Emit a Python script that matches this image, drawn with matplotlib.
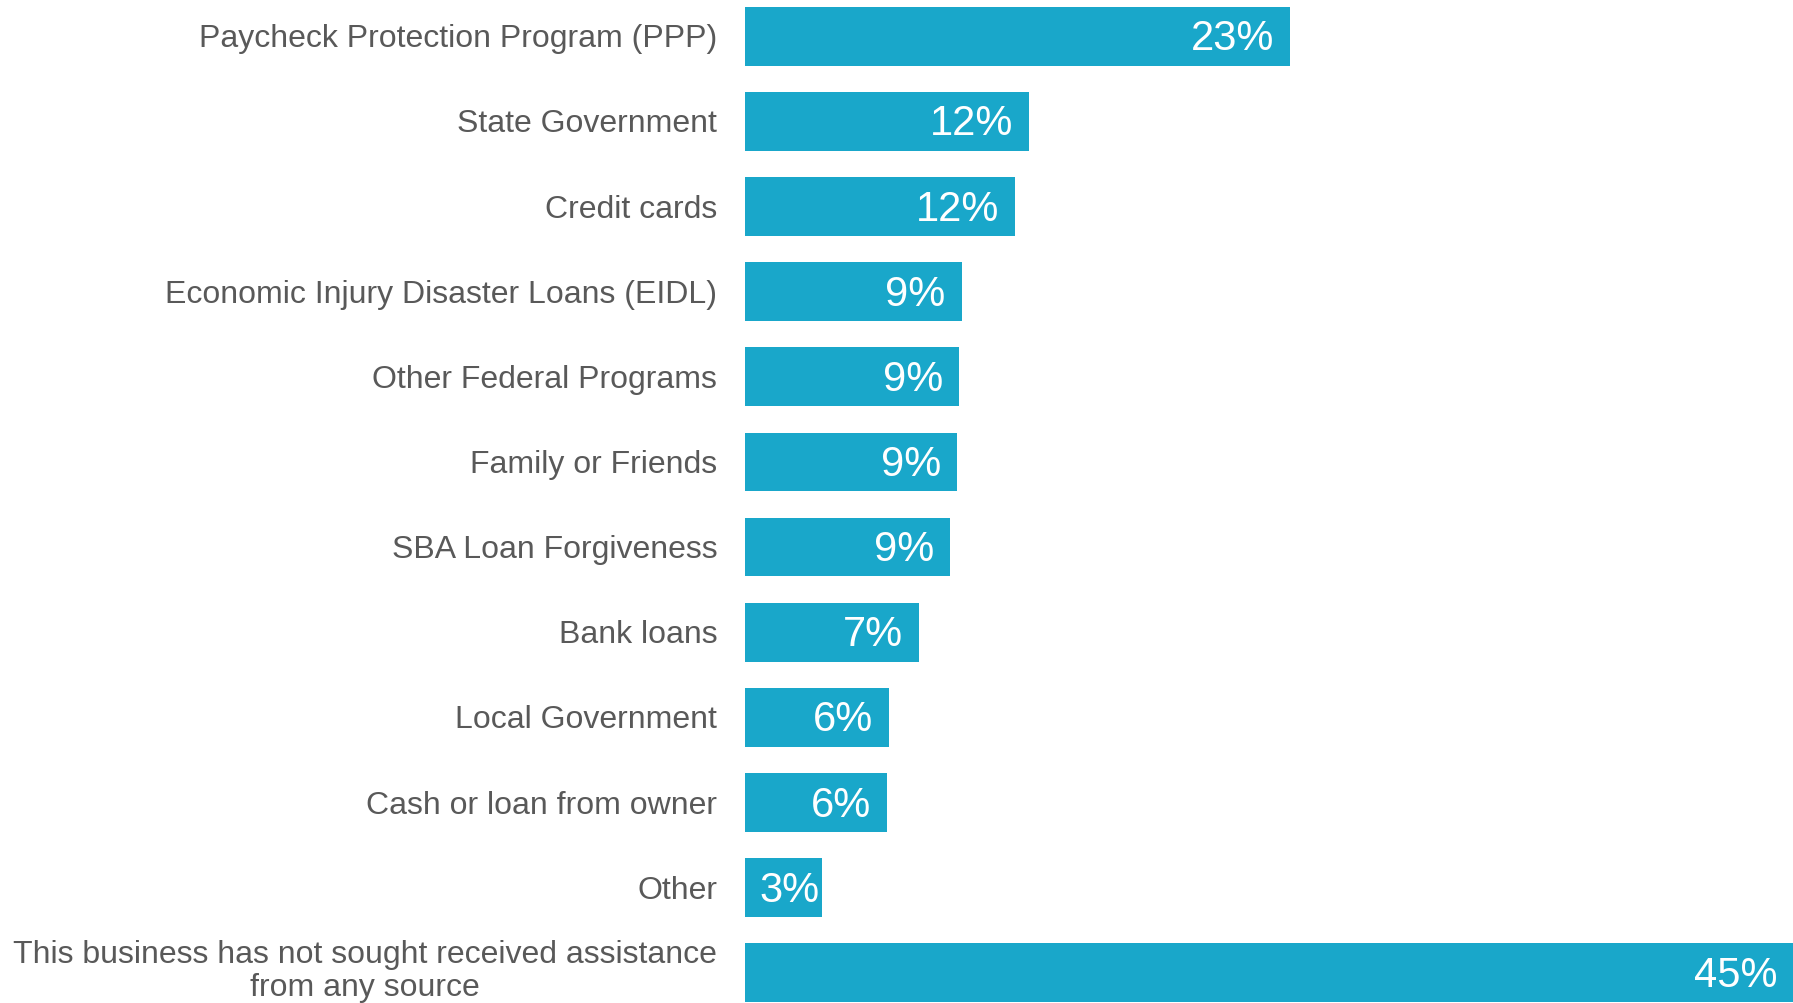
import matplotlib
matplotlib.use("Agg")
import matplotlib.pyplot as plt
import numpy as np

plt.rcParams["font.family"] = ["Liberation Sans", "DejaVu Sans"]

categories = [
    "Paycheck Protection Program (PPP)",
    "State Government",
    "Credit cards",
    "Economic Injury Disaster Loans (EIDL)",
    "Other Federal Programs",
    "Family or Friends",
    "SBA Loan Forgiveness",
    "Bank loans",
    "Local Government",
    "Cash or loan from owner",
    "Other",
    "This business has not sought received assistance\nfrom any source",
]
values = [23.4, 12.2, 11.6, 9.3, 9.2, 9.1, 8.8, 7.49, 6.2, 6.1, 3.3, 45.0]

BAR = "#19a7ca"
LABEL = "#595959"

fig = plt.figure(figsize=(17.93, 10.04), dpi=100)
ax = fig.add_axes([0.4155, 0.0, 0.5845, 1.0])

ys = np.arange(len(categories))
ax.barh(ys, values, height=0.69, color=BAR)
ax.set_xlim(0, 45.0)
ax.set_ylim(len(categories) - 1 + 0.356, -0.438)

for y, v, c in zip(ys, values, categories):
    off = -11.5 if v > 5 else -1.5  # short bar: label hugs the end
    ax.annotate(f"{v:.0f}%", (v, y), xytext=(off, -1.5), textcoords="offset points",
                ha="right", va="center", color="white", fontsize=30)
    dy = 1.5 if "\n" in c else -1.5  # keep the two-line label inside the figure
    ax.annotate(c, (0, y), xytext=(-20, dy), textcoords="offset points",
                ha="right", va="center", color=LABEL, fontsize=23,
                multialignment="center", linespacing=1.15, annotation_clip=False)

ax.axis("off")
fig.savefig("out.png", dpi=100)
